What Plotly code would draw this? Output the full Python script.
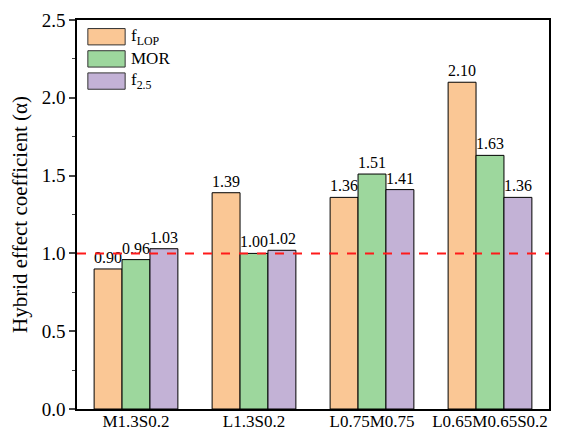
import plotly.graph_objects as go

categories = ["M1.3S0.2", "L1.3S0.2", "L0.75M0.75", "L0.65M0.65S0.2"]
f_lop = [0.90, 1.39, 1.36, 2.10]
mor = [0.96, 1.00, 1.51, 1.63]
f_25 = [1.03, 1.02, 1.41, 1.36]
tick_vals = [0.0, 0.5, 1.0, 1.5, 2.0, 2.5]
tick_text = ["0.0", "0.5", "1.0", "1.5", "2.0", "2.5"]
reference_level = 1.0

FONT = "Liberation Serif"

series = [
    ("f<sub>LOP</sub>", f_lop, "#FAC795"),
    ("MOR", mor, "#9DD79D"),
    ("f<sub>2.5</sub>", f_25, "#C3B2D6"),
]

fig = go.Figure()
for name, vals, color in series:
    fig.add_trace(go.Bar(
        x=categories, y=vals, name=name,
        marker=dict(color=color, line=dict(color="black", width=1)),
        text=[f"{v:.2f}" for v in vals],
        textposition="outside",
        textfont=dict(family=FONT, size=16, color="black"),
        cliponaxis=False,
        showlegend=False,
    ))

# dashed reference line at alpha = 1
fig.add_shape(type="line", xref="paper", yref="y", x0=0, x1=1,
              y0=reference_level, y1=reference_level,
              line=dict(color="#FF1A1A", width=2, dash="dash"))

# legend box drawn in the upper-left corner of the plot
sw_x0, sw_x1 = 0.023, 0.102
sw_h = 0.042
sw_tops = [0.978, 0.921, 0.864]
for (name, _, color), top in zip(series, sw_tops):
    fig.add_shape(type="rect", xref="paper", yref="paper",
                  x0=sw_x0, x1=sw_x1, y0=top - sw_h, y1=top,
                  fillcolor=color, line=dict(color="#333333", width=1))
    fig.add_annotation(xref="paper", yref="paper", x=sw_x1 + 0.008,
                       y=top - sw_h / 2, text=name, showarrow=False,
                       xanchor="left", yanchor="middle",
                       font=dict(family=FONT, size=17, color="black"))

fig.update_layout(
    width=562, height=430,
    margin=dict(l=77, r=13, t=20, b=21),
    paper_bgcolor="white", plot_bgcolor="white",
    barmode="group", bargap=0.29, bargroupgap=0,
    font=dict(family=FONT, size=18, color="black"),
    showlegend=False,
    xaxis=dict(showline=True, linecolor="black", linewidth=1.5, mirror=True,
               ticks="", tickfont=dict(family=FONT, size=17),
               ticklabelstandoff=-4,
               range=[-0.5, 3.5], automargin=False),
    yaxis=dict(range=[0, 2.5], showline=True, linecolor="black", linewidth=1.5,
               mirror=True, ticks="outside", ticklen=6, tickwidth=1.5,
               tickvals=tick_vals, ticktext=tick_text,
               minor=dict(ticks="outside", ticklen=3, tickwidth=1, dtick=0.25),
               showgrid=False, zeroline=False, automargin=False,
               tickfont=dict(family=FONT, size=19),
               title=dict(text="Hybrid effect coefficient (\u03b1)",
                          font=dict(family=FONT, size=21), standoff=8)),
)

fig.write_html("out.html")
